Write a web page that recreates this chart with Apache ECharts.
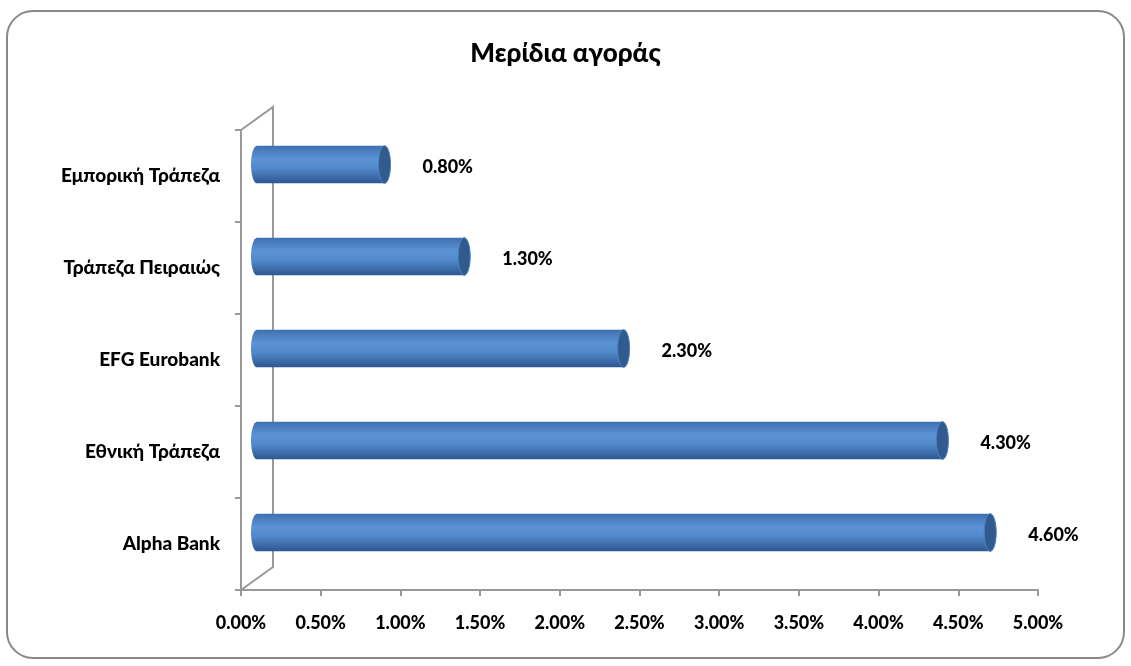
<!DOCTYPE html>
<html>
<head>
<meta charset="utf-8">
<script src="https://cdn.jsdelivr.net/npm/echarts@6/dist/echarts.min.js"></script>
<style>
  html, body { margin: 0; padding: 0; background: #fff; }
  #main { width: 1131px; height: 666px; }
</style>
</head>
<body>
<div id="main"></div>
<script>
// categories bottom -> top (category y axis starts at the bottom)
var banks = ['Alpha Bank', 'Εθνική Τράπεζα', 'EFG Eurobank', 'Τράπεζα Πειραιώς', 'Εμπορική Τράπεζα']
var shares = [4.6, 4.3, 2.3, 1.3, 0.8]

var FONT = 'Lato, "Noto Sans", sans-serif'
var GL = 241, GT = 130, GR = 1038, GB = 590
var DX = 32, DY = -23 // depth of the fake 3D floor

var myChart = echarts.init(document.getElementById('main'))

var option = {
  backgroundColor: '#fff',
  animation: false,
  title: {
    text: 'Μερίδια αγοράς',
    left: 'center',
    top: 36,
    textStyle: { color: '#000', fontSize: 26, fontWeight: 900, fontFamily: FONT }
  },
  grid: { left: GL, top: GT, right: 1131 - GR, bottom: 666 - GB, containLabel: false },
  xAxis: {
    type: 'value',
    min: 0,
    max: 5,
    interval: 0.5,
    axisLine: { show: true, lineStyle: { color: '#999', width: 2 } },
    axisTick: { show: true, length: 6, lineStyle: { color: '#999', width: 2 } },
    splitLine: { show: false },
    axisLabel: {
      margin: 24,
      color: '#000',
      fontSize: 18,
      fontWeight: 900,
      fontFamily: FONT,
      formatter: function (v) { return v.toFixed(2) + '%' }
    }
  },
  yAxis: {
    type: 'category',
    data: banks,
    axisLine: { show: true, lineStyle: { color: '#999', width: 2 } },
    axisTick: { show: true, length: 6, lineStyle: { color: '#999', width: 2 } },
    axisLabel: {
      margin: 21,
      color: '#000',
      fontSize: 19,
      fontWeight: 900,
      fontFamily: FONT
    }
  },
  graphic: [
    {
      type: 'rect',
      shape: { x: 7, y: 11, width: 1117, height: 647, r: 26 },
      style: { fill: 'none', stroke: '#888', lineWidth: 2 },
      z: 0
    },
    {
      type: 'polyline',
      shape: { points: [[GL, GT], [GL + DX, GT + DY], [GL + DX, GB + DY], [GL, GB]] },
      style: { fill: 'none', stroke: '#999', lineWidth: 2 },
      z: 1
    }
  ],
  series: [
    {
      type: 'custom',
      encode: { x: 0, y: 1 },
      data: shares.map(function (v, i) { return [v, i] }),
      renderItem: function (params, api) {
        var val = api.value(0)
        var idx = api.value(1)
        var start = api.coord([0, idx])
        var end = api.coord([val, idx])
        var band = api.size([0, 1])[1]
        var h = band * 0.41
        var rx = 6
        var cy = start[1] + DY / 2
        var x0 = start[0] + DX / 2
        var x1 = end[0] + DX / 2
        var body = new echarts.graphic.LinearGradient(0, 0, 0, 1, [
          { offset: 0, color: '#3f6fae' },
          { offset: 0.35, color: '#5b93d6' },
          { offset: 0.6, color: '#5289cc' },
          { offset: 1, color: '#2c578f' }
        ])
        return {
          type: 'group',
          children: [
            {
              type: 'ellipse',
              shape: { cx: x0, cy: cy, rx: rx, ry: h / 2 },
              style: { fill: body }
            },
            {
              type: 'rect',
              shape: { x: x0, y: cy - h / 2, width: x1 - x0, height: h },
              style: { fill: body }
            },
            {
              type: 'ellipse',
              shape: { cx: x1, cy: cy, rx: rx, ry: h / 2 },
              style: { fill: '#2f5b8f', stroke: '#4d7fbf', lineWidth: 1 }
            },
            {
              type: 'text',
              style: {
                x: x1 + rx + 32,
                y: cy + 3,
                text: val.toFixed(2) + '%',
                fill: '#000',
                font: '900 18px ' + FONT,
                align: 'left',
                verticalAlign: 'middle'
              }
            }
          ]
        }
      }
    }
  ]
}

myChart.setOption(option)
</script>
</body>
</html>
